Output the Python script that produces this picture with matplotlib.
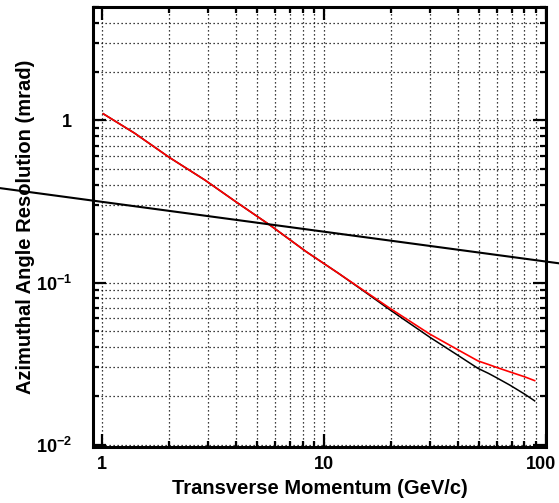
import matplotlib

matplotlib.use("Agg")
import matplotlib.pyplot as plt
from matplotlib.ticker import FixedLocator, LogLocator, NullFormatter

plt.rcParams["font.family"] = ["Liberation Sans", "DejaVu Sans"]
plt.rcParams["font.weight"] = "bold"
plt.rcParams["mathtext.fontset"] = "custom"
plt.rcParams["mathtext.rm"] = "Liberation Sans:bold"
plt.rcParams["mathtext.bf"] = "Liberation Sans:bold"

# resolution vs pT, two configurations
pt = [1.01, 1.4, 2.0, 2.9, 4.0, 5.7, 8.3, 11.6, 15.0, 19.8, 29.9, 40.0, 49.4, 55.0, 60.0, 68.6, 80.0, 88.9]
res_red = [1.10, 0.834, 0.593, 0.429, 0.315, 0.226, 0.155, 0.114, 0.0897, 0.0693, 0.0481,
           0.0385, 0.0328, 0.0312, 0.0299, 0.0281, 0.0262, 0.0248]
res_black = [1.10, 0.834, 0.593, 0.429, 0.315, 0.226, 0.155, 0.114, 0.0890, 0.0678, 0.0460,
             0.0356, 0.0295, 0.0275, 0.0258, 0.0233, 0.0205, 0.0186]

# stray reference line running across the whole pad
ref_x = [0.25, 150.0]
ref_y = [0.406, 0.125]

x_ticks = [1, 10, 100]
x_ticklabels = ["1", "10", "100"]
y_ticks = [0.01, 0.1, 1]
y_ticklabels = [r"$10^{-2}$", r"$10^{-1}$", "1"]

fig = plt.figure(figsize=(5.59, 5.03), dpi=100)
ax = fig.add_axes([0.1664, 0.112, 0.8103, 0.8747])

ax.set_xscale("log")
ax.set_yscale("log")
ax.set_xlim(0.908, 100)
ax.set_ylim(0.0097, 5.04)

grid_style = dict(color="black", linestyle=(0, (1, 2.2)), linewidth=0.9)
ax.grid(True, which="both", **grid_style)

ax.plot(pt, res_black, color="black", linewidth=1.1, zorder=3)
ax.plot(pt, res_red, color="#ff0000", linewidth=1.2, zorder=4)
ax.plot(ref_x, ref_y, color="black", linewidth=1.5, clip_on=False, zorder=5)

ax.xaxis.set_major_locator(FixedLocator(x_ticks))
# last label is drawn separately so it stays on the canvas
ax.set_xticklabels(x_ticklabels[:-1] + [""])
ax.yaxis.set_major_locator(FixedLocator(y_ticks))
ax.set_yticklabels(y_ticklabels)
ax.xaxis.set_minor_locator(LogLocator(base=10, subs=range(2, 10)))
ax.yaxis.set_minor_locator(LogLocator(base=10, subs=range(2, 10)))
ax.xaxis.set_minor_formatter(NullFormatter())
ax.yaxis.set_minor_formatter(NullFormatter())

ax.tick_params(which="both", direction="in", top=True, right=True, width=1.6, labelsize=13)
ax.tick_params(which="major", length=9.5)
ax.tick_params(which="minor", length=4.5)
ax.tick_params(axis="x", which="major", pad=7)
ax.tick_params(axis="y", which="major", pad=15)

ax.annotate(x_ticklabels[-1], xy=(x_ticks[-1], 0), xycoords=ax.get_xaxis_transform(),
            xytext=(7.5, -7), textcoords="offset points", ha="right", va="top",
            fontsize=13, fontweight="bold", annotation_clip=False)

for spine in ax.spines.values():
    spine.set_linewidth(2.2)

ax.set_xlabel("Transverse Momentum (GeV/c)", fontsize=14.5, fontweight="bold", va="baseline")
ax.xaxis.set_label_coords(0.5, -0.108)
ax.set_ylabel("Azimuthal Angle Resolution (mrad)", fontsize=14.5, fontweight="bold", va="center")
ax.yaxis.set_label_coords(-0.148, 0.5)

fig.savefig("out.png", dpi=100)
